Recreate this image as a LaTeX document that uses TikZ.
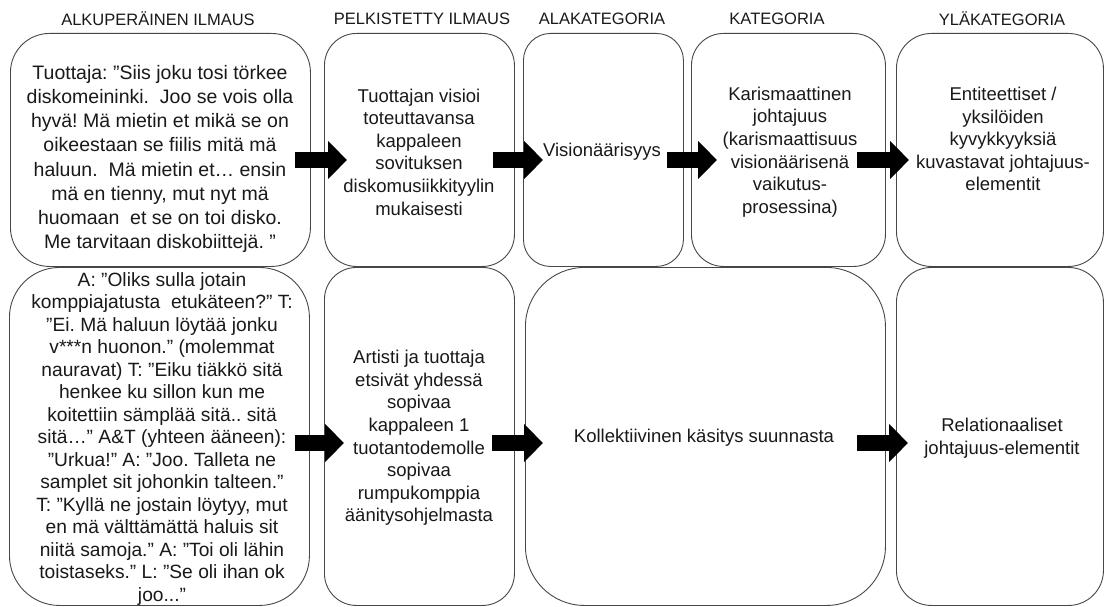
\documentclass[tikz,border=0pt]{standalone}
\usepackage{fontspec}
\setmainfont{Liberation Sans}
\usetikzlibrary{arrows.meta}
\frenchspacing
\begin{document}
\begin{tikzpicture}[x=1pt,y=-1pt,
  box/.style={draw=black!72, line width=0.9pt, inner sep=0pt, anchor=north west},
  hdr/.style={font=\fontsize{16.5}{20}\selectfont, inner sep=0pt, text=black!90},
  txt/.style={align=center, inner sep=0pt, text=black!90, font=\fontsize{18.5}{22.6}\selectfont},
  quotetxt/.style={txt, font=\fontsize{19.5}{24.2}\selectfont},
  quotetxtb/.style={txt, font=\fontsize{19.2}{22.5}\selectfont},
  blockarrow/.style={line width=16pt, black, -{Triangle[length=19pt,width=37pt]}}
]
\fill[white] (0,0) rectangle (1108,607);
\useasboundingbox (0,0) rectangle (1108,607);

% column headings
\node[hdr] (h1) at (158,19) {ALKUPERÄINEN ILMAUS};
\node[hdr] (h2) at (422,19) {PELKISTETTY ILMAUS};
\node[hdr] (h3) at (602,19) {ALAKATEGORIA};
\node[hdr] (h4) at (777,19) {KATEGORIA};
\node[hdr] (h5) at (1002,19) {YLÄKATEGORIA};

% first row of boxes
\node[box, rounded corners=39pt, minimum width=300pt, minimum height=233pt] (r1c1) at (10,33) {};
\node[box, rounded corners=32pt, minimum width=190pt, minimum height=233pt] (r1c2) at (324,33) {};
\node[box, rounded corners=27pt, minimum width=160pt, minimum height=233pt] (r1c3) at (523,33) {};
\node[box, rounded corners=32pt, minimum width=194pt, minimum height=233pt] (r1c4) at (691,33) {};
\node[box, rounded corners=35pt, minimum width=207pt, minimum height=233pt] (r1c5) at (896,33) {};

% second row of boxes
\node[box, rounded corners=50pt, minimum width=300pt, minimum height=338pt] (r2c1) at (9,267) {};
\node[box, rounded corners=32pt, minimum width=190pt, minimum height=338pt] (r2c2) at (324,267) {};
\node[box, rounded corners=59pt, minimum width=360pt, minimum height=338pt] (r2c3) at (525,267) {};
\node[box, rounded corners=35pt, minimum width=207pt, minimum height=338pt] (r2c5) at (896,267) {};

% first row texts
\node[quotetxt] (t11) at (160,159) {Tuottaja: ”Siis joku tosi törkee\\
diskomeininki.\ \ Joo se vois olla\\
hyvä! Mä mietin et mikä se on\\
oikeestaan se fiilis mitä mä\\
haluun.\ \ Mä mietin et… ensin\\
mä en tienny, mut nyt mä\\
huomaan\ \ et se on toi disko.\\
Me tarvitaan diskobiittejä. ”};
\node[txt] (t12) at (419,152) {Tuottajan visioi\\ toteuttavansa\\ kappaleen\\ sovituksen\\ diskomusiikkityylin\\ mukaisesti};
\node[txt] (t13) at (602,152) {Visionäärisyys};
\node[txt] (t14) at (790,152) {Karismaattinen\\ johtajuus\\ (karismaattisuus\\ visionäärisenä\\ vaikutus-\\ prosessina)};
\node[txt] (t15) at (1003,139) {Entiteettiset /\\ yksilöiden\\ kyvykkyyksiä\\ kuvastavat johtajuus-\\ elementit};

% second row texts
\node[quotetxtb] (t21) at (162,439) {A: ”Oliks sulla jotain\\
komppiajatusta\ \ etukäteen?” T:\\
”Ei. Mä haluun löytää jonku\\
v***n huonon.” (molemmat\\
nauravat) T: ”Eiku tiäkkö sitä\\
henkee ku sillon kun me\\
koitettiin sämplää sitä.. sitä\\
sitä…” A\&T (yhteen ääneen):\\
”Urkua!” A: ”Joo. Talleta ne\\
samplet sit johonkin talteen.”\\
T: ”Kyllä ne jostain löytyy, mut\\
en mä välttämättä haluis sit\\
niitä samoja.” A: ”Toi oli lähin\\
toistaseks.” L: ”Se oli ihan ok\\
joo...”};
\node[txt] (t22) at (419,438) {Artisti ja tuottaja\\ etsivät yhdessä\\ sopivaa\\ kappaleen 1\\ tuotantodemolle\\ sopivaa\\ rumpukomppia\\ äänitysohjelmasta};
\node[txt] (t23) at (704,438) {Kollektiivinen käsitys suunnasta};
\node[txt] (t25) at (1002,438) {Relationaaliset\\ johtajuus-elementit};

% arrow end points
\coordinate (a1s) at (295,160); \coordinate (a1e) at (347,160);
\coordinate (a2s) at (493,160); \coordinate (a2e) at (543,160);
\coordinate (a3s) at (667,160); \coordinate (a3e) at (717,160);
\coordinate (a4s) at (857,160); \coordinate (a4e) at (909,160);
\coordinate (b1s) at (295,443); \coordinate (b1e) at (344,443);
\coordinate (b2s) at (492,443); \coordinate (b2e) at (543,443);
\coordinate (b3s) at (857,443); \coordinate (b3e) at (908,443);

% block arrows
\draw[blockarrow] (a1s) -- (a1e);
\draw[blockarrow] (a2s) -- (a2e);
\draw[blockarrow] (a3s) -- (a3e);
\draw[blockarrow] (a4s) -- (a4e);
\draw[blockarrow] (b1s) -- (b1e);
\draw[blockarrow] (b2s) -- (b2e);
\draw[blockarrow] (b3s) -- (b3e);
\end{tikzpicture}
\end{document}
